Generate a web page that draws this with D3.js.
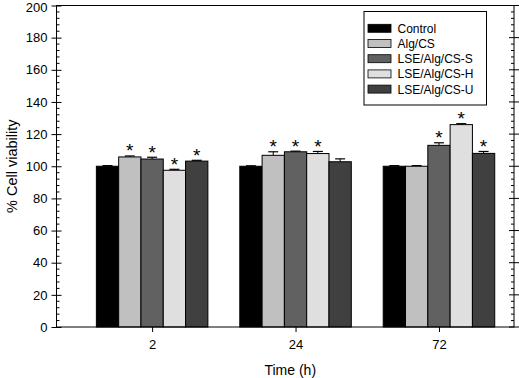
<!DOCTYPE html>
<html><head><meta charset="utf-8">
<script src="https://cdn.jsdelivr.net/npm/d3@7"></script>
<style>body{margin:0;background:#fff}svg{display:block}text{font-family:"Liberation Sans",Arial,sans-serif;fill:#000}</style>
</head><body><svg id="c" width="519" height="378"></svg>
<script>
const categories = ["2", "24", "72"];
const seriesNames = ["Control", "Alg/CS", "LSE/Alg/CS-S", "LSE/Alg/CS-H", "LSE/Alg/CS-U"];
const seriesColors = ["#000000", "#c0c0c0", "#616161", "#dfdfdf", "#404040"];
const control = [100, 100, 100];
const algCS = [105.8, 106.8, 100];
const lseS = [104.5, 109.0, 113.0];
const lseH = [97.5, 107.9, 125.9];
const lseU = [103.2, 102.8, 108.0];
const errControl = [0.4, 0.3, 0.4];
const errAlgCS = [0.6, 2.2, 0.4];
const errS = [1.1, 0.4, 1.6];
const errH = [0.6, 1.3, 0.6];
const errU = [0.5, 1.8, 1.2];
const significant = [[false, true, true, true, true], [false, true, true, true, false], [false, false, true, true, true]];
const yTicks = [0, 20, 40, 60, 80, 100, 120, 140, 160, 180, 200];

const values = [control, algCS, lseS, lseH, lseU];
const errs = [errControl, errAlgCS, errS, errH, errU];

const svg = d3.select("#c");
const L = 56.5, R = 514, T = 5.5, B = 327;
const W = R - L;

const y = d3.scaleLinear().domain([0, 200]).range([B, T]);
const x = d3.scalePoint().domain(categories).range([L + W * 0.209, L + W * 0.836]);
const groupW = 111.5;
const xs = d3.scaleBand().domain(seriesNames).range([-groupW / 2, groupW / 2]).padding(0);

const data = [];
categories.forEach((c, ci) => seriesNames.forEach((s, si) => data.push({c, ci, s, si, v: values[si][ci], e: errs[si][ci], sig: significant[ci][si]})));

const g = svg.append("g");
g.selectAll("line.err").data(data).join("line")
  .attr("x1", d => x(d.c) + xs(d.s) + xs.bandwidth() / 2)
  .attr("x2", d => x(d.c) + xs(d.s) + xs.bandwidth() / 2)
  .attr("y1", d => y(d.v)).attr("y2", d => y(d.v + d.e))
  .attr("stroke", "#000").attr("stroke-width", 1);
g.selectAll("line.cap").data(data).join("line")
  .attr("x1", d => x(d.c) + xs(d.s) + xs.bandwidth() / 2 - 5)
  .attr("x2", d => x(d.c) + xs(d.s) + xs.bandwidth() / 2 + 5)
  .attr("y1", d => y(d.v + d.e)).attr("y2", d => y(d.v + d.e))
  .attr("stroke", "#000").attr("stroke-width", 1.2);

g.selectAll("rect.bar").data(data).join("rect")
  .attr("x", d => x(d.c) + xs(d.s))
  .attr("y", d => y(d.v))
  .attr("width", xs.bandwidth())
  .attr("height", d => y(0) - y(d.v))
  .attr("fill", d => seriesColors[d.si])
  .attr("stroke", "#000").attr("stroke-width", 1);

g.selectAll("text.sig").data(data.filter(d => d.sig)).join("text")
  .attr("x", d => x(d.c) + xs(d.s) + xs.bandwidth() / 2)
  .attr("y", d => y(d.v + d.e) + 1.5)
  .attr("text-anchor", "middle")
  .attr("font-size", 19)
  .text("*");

svg.append("rect").attr("x", L).attr("y", T).attr("width", W).attr("height", B - T)
  .attr("fill", "none").attr("stroke", "#000").attr("stroke-width", 1);

const yAxisMajor = d3.axisLeft(y).tickValues(yTicks).tickSize(5).tickPadding(4);
const ya = svg.append("g").attr("transform", `translate(${L},0)`).call(yAxisMajor);
ya.select(".domain").remove();
ya.selectAll("text").attr("font-size", 13).attr("font-family", "Liberation Sans, Arial, sans-serif");
ya.selectAll(".tick line").attr("x2", 5).attr("x1", -5);
ya.selectAll(".tick text").attr("x", -9);
ya.selectAll(".tick text").filter(d => d === 200).attr("dy", "0.32em").attr("y", 1.5);
const minor = d3.range(0, 201, 4).filter(v => v % 20 !== 0);
svg.append("g").selectAll("line").data(minor).join("line")
  .attr("x1", L).attr("x2", L + 3).attr("y1", d => y(d)).attr("y2", d => y(d)).attr("stroke", "#000");
svg.append("g").selectAll("line").data(minor).join("line")
  .attr("x1", R - 3).attr("x2", R).attr("y1", d => y(d)).attr("y2", d => y(d)).attr("stroke", "#000");
svg.append("g").selectAll("line").data(yTicks).join("line")
  .attr("x1", R - 5).attr("x2", R + 5).attr("y1", d => y(d)).attr("y2", d => y(d)).attr("stroke", "#000");

const xa = svg.append("g").attr("transform", `translate(0,${B})`).call(d3.axisBottom(x).tickSize(5).tickPadding(8));
xa.select(".domain").remove();
xa.selectAll("text").attr("font-size", 13).attr("font-family", "Liberation Sans, Arial, sans-serif");

svg.append("text").attr("x", (L + R) / 2 + 5).attr("y", 375).attr("text-anchor", "middle").attr("font-size", 14).text("Time (h)");
svg.append("text").attr("transform", `translate(17,${(T + B) / 2}) rotate(-90)`).attr("text-anchor", "middle").attr("font-size", 14.5).text("% Cell viability");

const lg = svg.append("g");
lg.append("rect").attr("x", 364).attr("y", 11.5).attr("width", 122.5).attr("height", 93.5).attr("fill", "#fff").attr("stroke", "#000");
const items = lg.selectAll("g.item").data(seriesNames).join("g").attr("transform", (d, i) => `translate(368,${28.3 + i * 15.2})`);
items.append("rect").attr("x", 0).attr("y", -4).attr("width", 23).attr("height", 8).attr("fill", (d, i) => seriesColors[i]).attr("stroke", "#000").attr("stroke-width", 0.8);
items.append("text").attr("x", 29.5).attr("y", 4.5).attr("font-size", 12).text(d => d);
</script></body></html>
